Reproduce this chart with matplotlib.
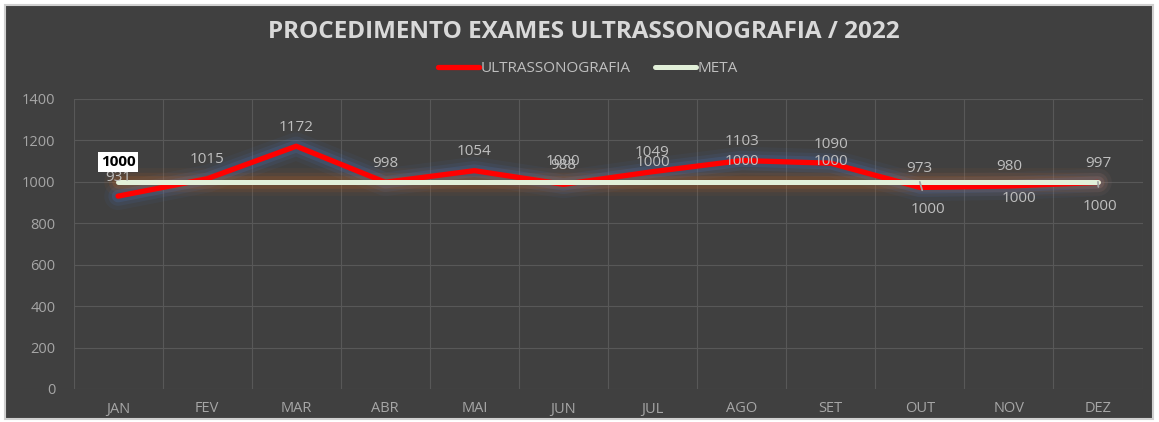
import numpy as np
import matplotlib.pyplot as plt
from matplotlib.patches import Rectangle

plt.rcParams['font.family'] = ['Open Sans', 'DejaVu Sans']

# dados
meses = ["JAN", "FEV", "MAR", "ABR", "MAI", "JUN", "JUL", "AGO", "SET", "OUT", "NOV", "DEZ"]
ultrassonografia = [931, 1015, 1172, 998, 1054, 988, 1049, 1103, 1090, 973, 980, 997]
meta = [1000, 1000, 1000, 1000, 1000, 1000, 1000, 1000, 1000, 1000, 1000, 1000]

W, H = 1159, 422
fig = plt.figure(figsize=(W / 100, H / 100), dpi=100, facecolor="white")

# fundo escuro com borda clara
fig.patches.append(Rectangle((5 / W, 3 / H), 1148 / W, 414 / H, transform=fig.transFigure,
                             facecolor="#404040", edgecolor="#d0d0d0", lw=1.5, zorder=-10))

ax = fig.add_axes([73.5 / W, (H - 389) / H, 1069 / W, 290 / H])
ax.set_zorder(1)
ax.set_facecolor("none")
x = np.arange(len(meses))

# brilho atrás das linhas
for lw, a in [(20, 0.06), (14, 0.1), (9, 0.16)]:
    ax.plot(x, ultrassonografia, color="#4a7bd0", lw=lw, alpha=a, solid_capstyle="round", zorder=2)
    ax.plot(x, meta, color="#d2691e", lw=lw, alpha=a, solid_capstyle="round", zorder=2)

ax.plot(x, ultrassonografia, color="#ff0000", lw=3.8, solid_capstyle="round", zorder=3,
        label="ULTRASSONOGRAFIA")
ax.plot(x, meta, color="#e2f0d9", lw=3.6, solid_capstyle="round", zorder=4, label="META")

ax.set_xlim(-0.5, len(meses) - 0.5)
ax.set_ylim(0, 1400)
ax.set_yticks(range(0, 1401, 200))
ax.set_xticks(x)
ax.set_xticklabels(meses)
ax.set_xticks(np.arange(-0.5, len(meses), 1), minor=True)
ax.grid(axis="y", color="#585858", lw=0.8)
ax.grid(axis="x", which="minor", color="#585858", lw=0.8)
ax.set_axisbelow(True)
for s in ax.spines.values():
    s.set_visible(False)
ax.tick_params(axis="both", which="both", length=0, colors="#a6a6a6", labelsize=10.5)
ax.tick_params(axis="y", pad=13)
ax.tick_params(axis="x", pad=9)

# rótulos da série
for xi, v in zip(x, ultrassonografia):
    ax.annotate(str(v), (xi, v), xytext=(0, 19), textcoords="offset pixels",
                ha="center", va="center", color="#bfbfbf", fontsize=11, zorder=5)

# rótulos da meta (posições ajustadas à mão)
desloc_meta = {0: (0, 20), 5: (0, 20), 6: (0, 19), 7: (0, 20), 8: (0, 20),
               9: (8, -28), 10: (10, -17), 11: (2, -25)}
for i, (dx, dy) in desloc_meta.items():
    if i == 0:
        ax.annotate(str(meta[i]), (x[i], meta[i]), xytext=(dx, dy), textcoords="offset pixels",
                    ha="center", va="center", color="black", fontsize=11, fontweight="bold",
                    bbox=dict(boxstyle="square,pad=0.2", fc="white", ec="none"), zorder=6)
    elif i in (9, 11):
        ax.annotate(str(meta[i]), (x[i], meta[i]), xytext=(dx, dy), textcoords="offset pixels",
                    ha="center", va="center", color="#bfbfbf", fontsize=11, zorder=5,
                    arrowprops=dict(arrowstyle="-", color="#a6a6a6", lw=1.3, shrinkA=7, shrinkB=0))
    else:
        ax.annotate(str(meta[i]), (x[i], meta[i]), xytext=(dx, dy), textcoords="offset pixels",
                    ha="center", va="center", color="#bfbfbf", fontsize=11, zorder=5)

fig.text(584 / W, 1 - 32 / H, "PROCEDIMENTO EXAMES ULTRASSONOGRAFIA / 2022", ha="center", va="center",
         color="#d9d9d9", fontsize=17.5, fontweight="bold")

leg = fig.legend(*ax.get_legend_handles_labels(), loc="center", bbox_to_anchor=(588 / W, 1 - 69 / H),
                 ncol=2, frameon=False, fontsize=11, labelcolor="#bfbfbf", handlelength=2.7,
                 handletextpad=0.1, columnspacing=1.6)

fig.savefig("out.png", dpi=100, facecolor="white")
